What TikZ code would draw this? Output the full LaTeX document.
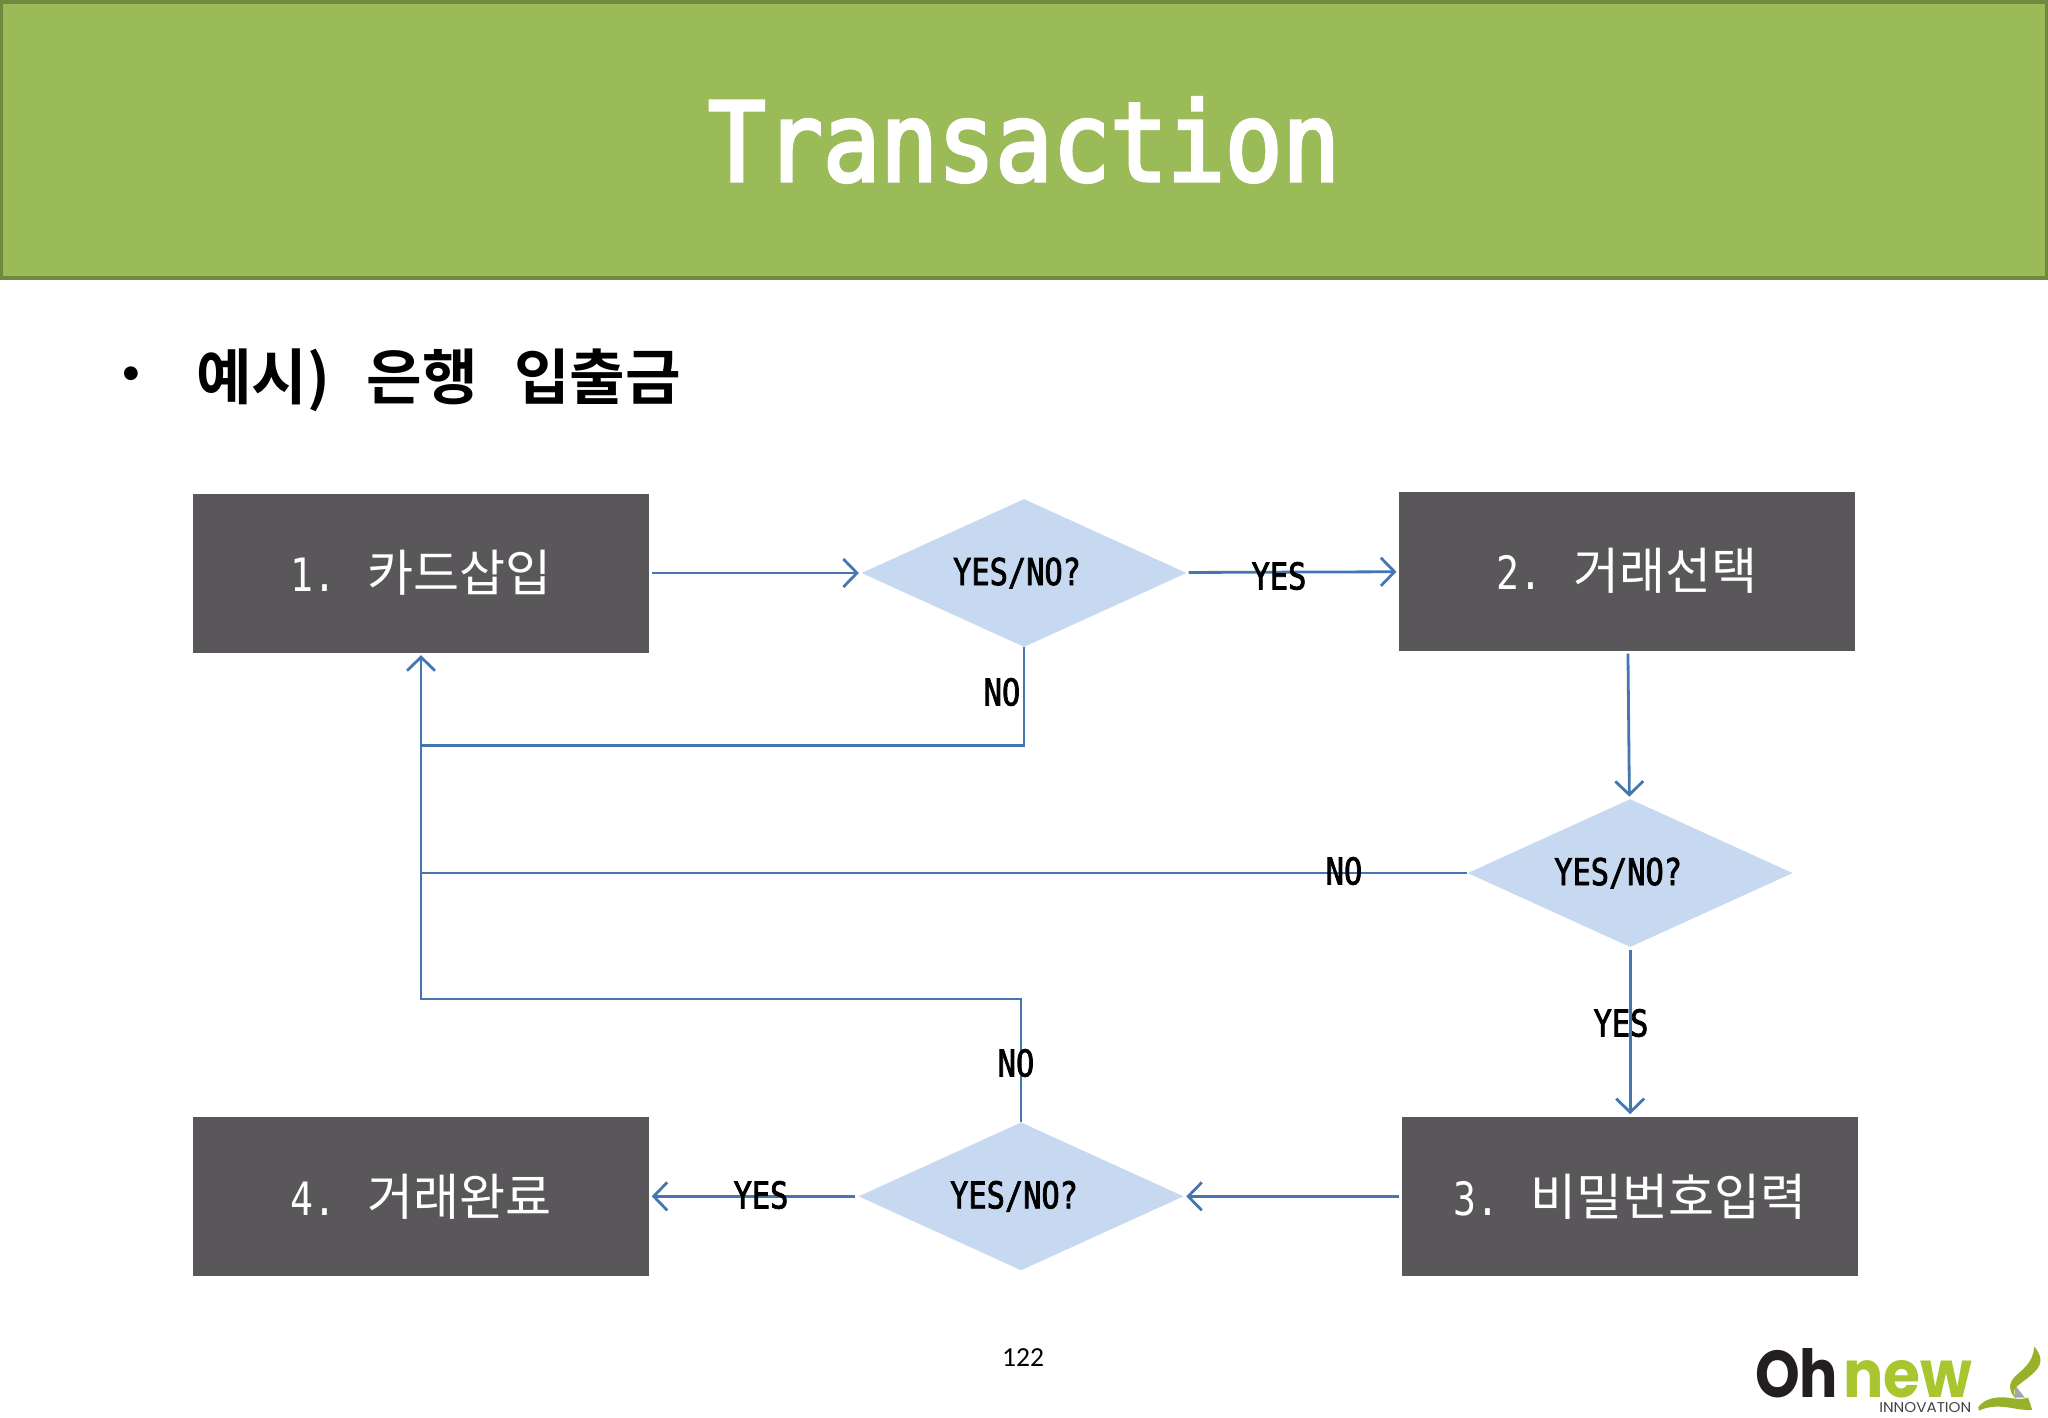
\documentclass[tikz,border=0pt]{standalone}
\usepackage{fontspec}
\usetikzlibrary{positioning,arrows.meta,shapes.geometric,calc}
\newfontfamily\monofont[FakeStretch=0.82,FakeBold=2]{DejaVu Sans Mono}
\newfontfamily\stepfont[FakeStretch=0.83]{DejaVu Sans Mono}
\newfontfamily\titlefont[FakeStretch=0.87,FakeBold=3]{DejaVu Sans Mono}
\newfontfamily\cjkfont[WordSpace=2.2]{Noto Sans CJK KR}
\newfontfamily\cjkbold[WordSpace=2.65]{Noto Sans CJK KR Bold}
\newfontfamily\logofont{Poppins}
\newfontfamily\pagefont{Carlito}
\newfontfamily\bulletfont{Liberation Sans}
\definecolor{bandgreen}{HTML}{9BBB59}
\definecolor{bandedge}{HTML}{71893F}
\definecolor{boxgray}{HTML}{595759}
\definecolor{askblue}{HTML}{C6D9F0}
\definecolor{linkblue}{HTML}{4477B2}
\definecolor{logogreen}{HTML}{A9C52F}
\definecolor{logodark}{HTML}{231F20}
\newcommand{\stepnum}[1]{{\stepfont\fontsize{32.7pt}{38pt}\selectfont #1}}
\newcommand{\asktext}[1]{YES/NO?\kern#1\relax}

\begin{document}
\begin{tikzpicture}[
  x=0.25mm, y=-0.25mm,
  font=\cjkfont,
  stepbox/.style={fill=boxgray, text=white, inner sep=0pt, minimum width=114mm,
                  minimum height=39.75mm, font=\cjkfont\fontsize{35.6pt}{40pt}\selectfont},
  askdia/.style={diamond, fill=askblue, inner sep=0pt, aspect=2.2, minimum width=81.25mm,
                 minimum height=37mm, font=\monofont\fontsize{26.3pt}{30pt}\selectfont},
  flag/.style={inner sep=0pt, font=\monofont\fontsize{26.3pt}{30pt}\selectfont},
  link/.style={draw=linkblue, line width=0.7mm},
  arr/.style={link, -{Straight Barb[length=3.4mm,width=7mm,line width=0.7mm]}, shorten >=0.6mm, shorten <=0.7mm}
]
\useasboundingbox (0,0) rectangle (2048,1418);

% header
\node[fill=bandgreen, draw=bandedge, line width=1mm, inner sep=0pt, minimum width=511.5mm,
      minimum height=69mm, text=white, font=\titlefont\fontsize{78pt}{90pt}\selectfont] (band) at (1024,140) {Transaction};
\node[inner sep=0pt, font=\bulletfont\fontsize{36pt}{40pt}\selectfont] (bullet) at (131,379) {•};
\node[inner sep=0pt, anchor=west, font=\cjkbold\fontsize{43pt}{50pt}\selectfont] (head) at (196,380) {예시) 은행 입출금};

% boxes and questions
\node[stepbox] (card) at (421,573) {\stepnum{1. }카드삽입};
\node[askdia, right=53mm of card] (ask1) {\asktext{3.5mm}};
\node[stepbox, right=53mm of ask1, yshift=0.5mm] (choose) {\stepnum{2. }거래선택};
\node[askdia, below=37mm of choose, xshift=0.75mm] (ask2) {\asktext{6mm}};
\node[stepbox, below=42.3mm of ask2] (password) {\stepnum{3. }비밀번호입력};
\node[askdia, left=54.5mm of password] (ask3) {\asktext{3.5mm}};
\node[stepbox, left=52.25mm of ask3] (done) {\stepnum{4. }거래완료};

\coordinate[below=24.5mm of ask1.south] (elbow1);
\coordinate[above=30.75mm of ask3.north] (elbow3);

\draw[arr] (card) -- (ask1);
\draw[arr] (ask1) -- (choose);
\draw[arr] (choose) -- (ask2);
\draw[arr] (ask2) -- (password);
\draw[arr] (password) -- (ask3);
\draw[arr] (ask3) -- (done);
\draw[link] (ask1.south) -- (elbow1) -- (elbow1 -| card.south);
\draw[link] (ask2.west) -- (ask2.west -| card.south);
\draw[arr, shorten <=0mm] (ask3.north) -- (elbow3) -- (elbow3 -| card.south) -- (card.south);

\node[flag] (yes1) at (1279,576) {YES};
\node[flag] (no1) at (1002,692) {NO};
\node[flag] (no2) at (1344,871) {NO};
\node[flag] (yes2) at (1621,1023) {YES};
\node[flag] (no3) at (1016,1063) {NO};
\node[flag] (yes3) at (761,1195) {YES};

% page number and logo
\node[inner sep=0pt, font=\pagefont\fontsize{19.6pt}{24pt}\selectfont] (page) at (1023,1358) {122};
\node[inner sep=0pt, anchor=north west, text=logodark] (logooh) at (1755,1348)
  {\resizebox{20.75mm}{12.25mm}{\logofont\bfseries Oh}};
\node[inner sep=0pt, anchor=north west, text=logogreen] (logonew) at (1843,1360)
  {\resizebox{32.25mm}{9.25mm}{\logofont\bfseries new}};
\node[inner sep=0pt, anchor=north west, text=logodark!85] (logosub) at (1879,1402)
  {\resizebox{23mm}{2.5mm}{\logofont INNOVATION}};
\begin{scope}[shift={(1700,1320)}, x=0.0833mm, y=-0.0833mm]
  \fill[gray!70] (945,195) -- (975,233) -- (945,233) -- cycle;
  \fill[logogreen!90!black] (1003,80) .. controls (1025,105) and (1030,130) .. (1005,155)
    .. controls (985,175) and (960,190) .. (945,205) .. controls (940,220) and (945,230) .. (950,238)
    .. controls (925,215) and (925,190) .. (945,170) .. controls (965,150) and (1000,130) .. (1003,80) -- cycle;
  \fill[logogreen!90!black] (835,262) .. controls (850,240) and (880,230) .. (915,232)
    .. controls (945,236) and (965,240) .. (985,233) -- (997,270)
    .. controls (960,272) and (930,260) .. (895,260) .. controls (870,260) and (850,265) .. (838,272) -- cycle;
\end{scope}
\end{tikzpicture}
\end{document}
